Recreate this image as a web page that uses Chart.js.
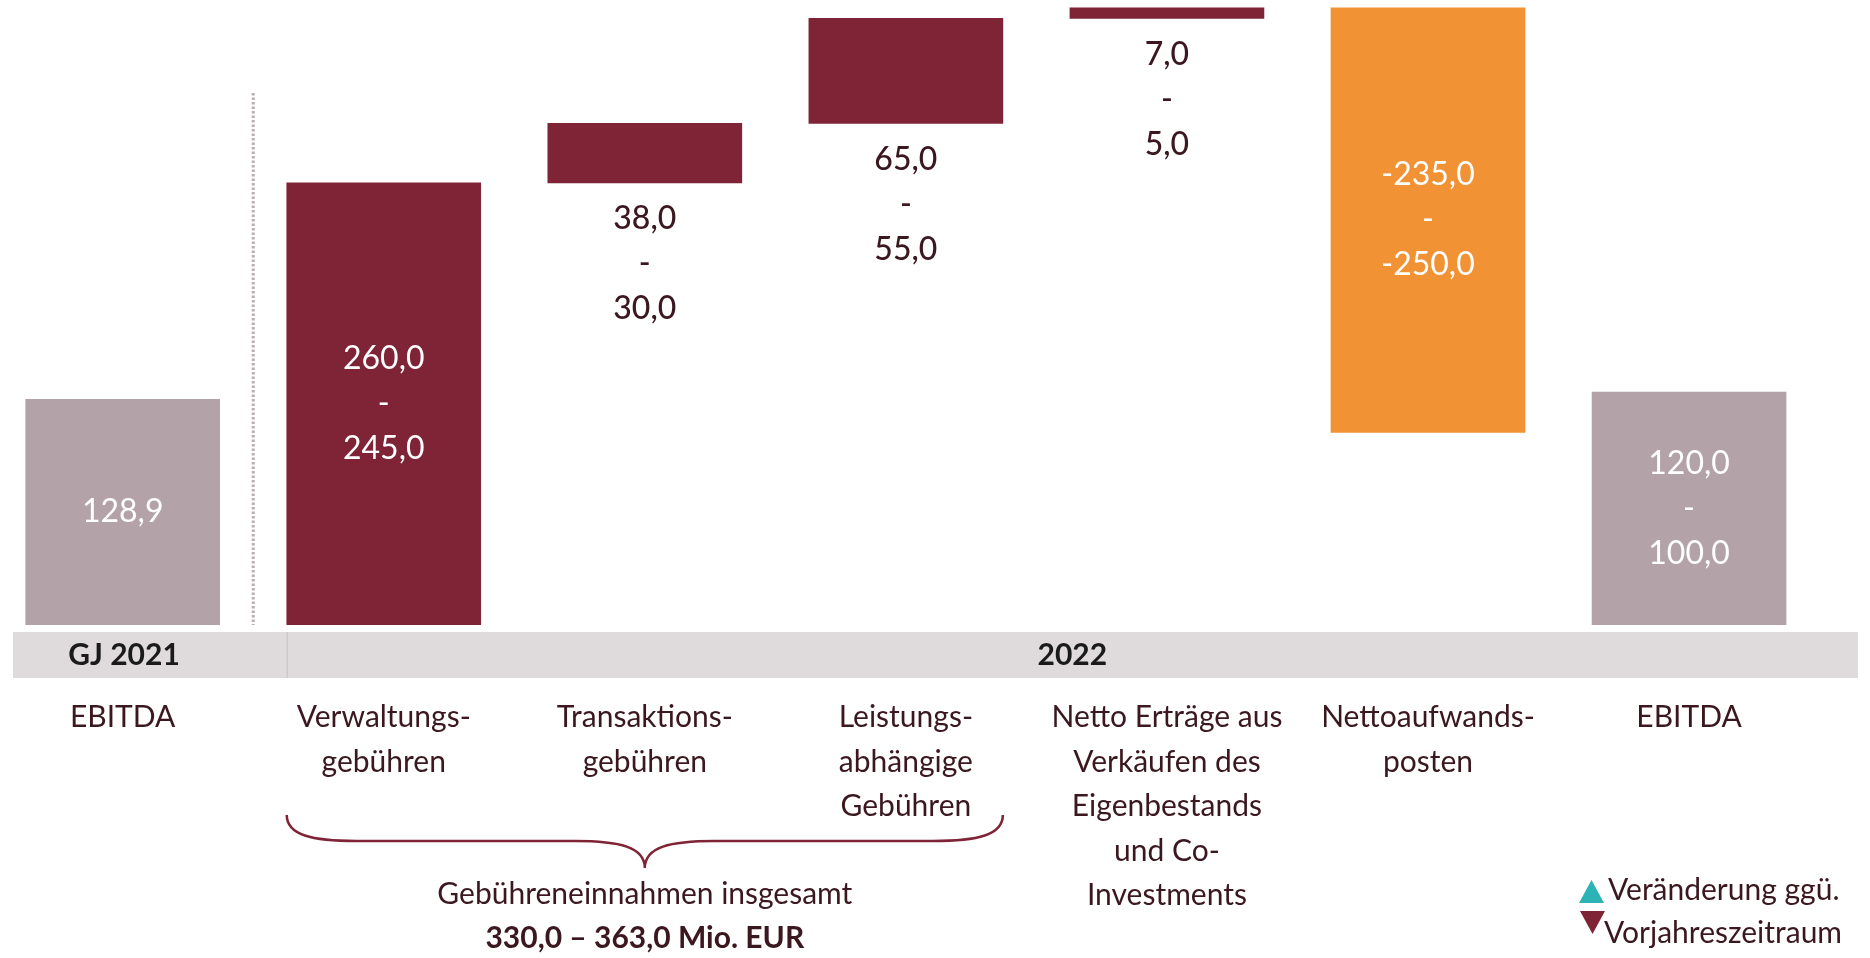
<!DOCTYPE html>
<html lang="de">
<head>
<meta charset="utf-8">
<title>EBITDA Überleitung 2022</title>
<script src="https://cdn.jsdelivr.net/npm/chart.js@4.4.1/dist/chart.umd.min.js"></script>
<style>
  html, body { margin: 0; padding: 0; background: #ffffff; }
  #wrap { position: relative; width: 1870px; height: 958px; overflow: hidden; }
</style>
</head>
<body>
<div id="wrap"><canvas id="bridgeChart"></canvas></div>
<script>
// Waterfall: EBITDA GJ 2021 -> Prognose 2022 (Mio. EUR)

// Kategorien (mehrzeilige Achsenbeschriftung)
const categories = [
    ['EBITDA'],
    ['Verwaltungs-', 'gebühren'],
    ['Transaktions-', 'gebühren'],
    ['Leistungs-', 'abhängige', 'Gebühren'],
    ['Netto Erträge aus', 'Verkäufen des', 'Eigenbestands', 'und Co-', 'Investments'],
    ['Nettoaufwands-', 'posten'],
    ['EBITDA'],
];

// Balken-Anfang und -Ende (Mio. EUR, Mittelwerte der Spannen)
const barStart = [0,     0,     252.5, 286.5, 346.5, 110,   0];
const barEnd   = [128.9, 252.5, 286.5, 346.5, 352.5, 352.5, 133];

// Beschriftung der Spannen
const rangeHigh = ['128,9', '260,0', '38,0', '65,0', '7,0', '-235,0', '120,0'];
const rangeLow  = [null,    '245,0', '30,0', '55,0', '5,0', '-250,0', '100,0'];

// Zeitraum-Band
const periodLabels = ['GJ 2021', '2022'];

const COLORS = {
    maroon: '#7f2436',
    grey:   '#b3a3a8',
    orange: '#f19234',
    band:   '#dfdadc',
    text:   '#3b1820',
    dark:   '#1a1a1a',
    teal:   '#2bb3b5',
};
const barColors = [COLORS.grey, COLORS.maroon, COLORS.maroon, COLORS.maroon, COLORS.maroon, COLORS.orange, COLORS.grey];

const FONT = "Lato, 'Open Sans', sans-serif";

// ── Plugin: Werte, Band, Trennlinie, Klammer, Legende ─────────────
const bridgeDecor = {
    id: 'bridgeDecor',
    afterDraw(chart) {
        const { ctx, chartArea } = chart;
        const xs = chart.scales.x;
        const meta = chart.getDatasetMeta(0);
        const halfBar = 97;

        ctx.save();

        // Werte in / unter den Balken
        ctx.textAlign = 'center';
        ctx.textBaseline = 'middle';
        meta.data.forEach((bar, i) => {
            const top = Math.min(bar.y, bar.base);
            const bottom = Math.max(bar.y, bar.base);
            const lines = rangeLow[i] ? [rangeHigh[i], '-', rangeLow[i]] : [rangeHigh[i]];
            const lh = 45;
            let y0;
            if (bottom - top > 150) {
                ctx.fillStyle = '#ffffff';
                ctx.font = `400 32px ${FONT}`;
                y0 = (top + bottom) / 2 - (lines.length - 1) * lh / 2;
            } else {
                ctx.fillStyle = COLORS.text;
                ctx.font = `500 32px ${FONT}`;
                y0 = bottom + 36;
            }
            lines.forEach((t, k) => ctx.fillText(t, bar.x, y0 + k * lh));
        });

        // gepunktete Trennlinie zwischen 2021 und 2022
        const sepX = xs.getPixelForValue(0.5);
        ctx.strokeStyle = '#b9aeb2';
        ctx.lineWidth = 3;
        ctx.setLineDash([2.5, 2]);
        ctx.beginPath();
        ctx.moveTo(sepX, 93);
        ctx.lineTo(sepX, chartArea.bottom);
        ctx.stroke();
        ctx.setLineDash([]);

        // Zeitraum-Band
        const bandTop = chartArea.bottom + 7;
        const bandH = 46;
        const divX = xs.getPixelForValue(1) - halfBar;
        ctx.fillStyle = COLORS.band;
        ctx.fillRect(13, bandTop, 1858 - 13, bandH);
        ctx.strokeStyle = '#cbc3c6';
        ctx.lineWidth = 1;
        ctx.beginPath();
        ctx.moveTo(divX + 0.5, bandTop);
        ctx.lineTo(divX + 0.5, bandTop + bandH);
        ctx.stroke();

        ctx.fillStyle = COLORS.dark;
        ctx.font = `700 30px ${FONT}`;
        ctx.fillText(periodLabels[0], 124, bandTop + bandH / 2);
        ctx.fillText(periodLabels[1], (divX + 1858) / 2, bandTop + bandH / 2);

        // geschweifte Klammer unter den Gebühren
        const bx0 = xs.getPixelForValue(1) - halfBar;
        const bx1 = xs.getPixelForValue(3) + halfBar;
        const tip = xs.getPixelForValue(2);
        const yA = 815, yB = 841, yC = 868;
        ctx.strokeStyle = COLORS.maroon;
        ctx.lineWidth = 2.5;
        ctx.beginPath();
        ctx.moveTo(bx0, yA);
        ctx.bezierCurveTo(bx0, yB - 6, bx0 + 25, yB, bx0 + 70, yB);
        ctx.lineTo(tip - 70, yB);
        ctx.bezierCurveTo(tip - 25, yB, tip, yB + 6, tip, yC);
        ctx.bezierCurveTo(tip, yB + 6, tip + 25, yB, tip + 70, yB);
        ctx.lineTo(bx1 - 70, yB);
        ctx.bezierCurveTo(bx1 - 25, yB, bx1, yB - 6, bx1, yA);
        ctx.stroke();

        ctx.fillStyle = COLORS.text;
        ctx.font = `400 30px ${FONT}`;
        ctx.fillText('Gebühreneinnahmen insgesamt', tip, 894);
        ctx.font = `700 30px ${FONT}`;
        ctx.fillText('330,0 – 363,0 Mio. EUR', tip, 938);

        // Legende
        ctx.fillStyle = COLORS.teal;
        ctx.beginPath();
        ctx.moveTo(1579, 903); ctx.lineTo(1604, 903); ctx.lineTo(1591.5, 880);
        ctx.closePath(); ctx.fill();
        ctx.fillStyle = COLORS.maroon;
        ctx.beginPath();
        ctx.moveTo(1580, 911); ctx.lineTo(1605, 911); ctx.lineTo(1592.5, 934);
        ctx.closePath(); ctx.fill();

        ctx.fillStyle = COLORS.text;
        ctx.textAlign = 'left';
        ctx.font = `400 30px ${FONT}`;
        ctx.fillText('Veränderung ggü.', 1608, 890);
        ctx.fillText('Vorjahreszeitraum', 1604, 933);

        ctx.restore();
    }
};

const ctx = document.getElementById('bridgeChart');

new Chart(ctx, {
    type: 'bar',
    data: {
        datasets: [{
            data: categories.map((c, i) => ({ x: i, y: [barStart[i], barEnd[i]] })),
            backgroundColor: barColors,
            borderWidth: 0,
            barThickness: 194,
        }]
    },
    options: {
        responsive: true,
        maintainAspectRatio: false,
        animation: false,
        layout: { padding: 0, autoPadding: false },
        plugins: {
            legend: { display: false },
            tooltip: { enabled: false },
        },
        scales: {
            x: {
                type: 'linear',
                offset: false,
                min: -0.4234,
                max: 6.6931,
                grid: { display: false, drawTicks: false, offset: false },
                border: { display: false },
                afterBuildTicks: s => { s.ticks = categories.map((c, i) => ({ value: i })); },
                afterFit: s => { s.height = 333; },
                ticks: {
                    autoSkip: false,
                    maxRotation: 0,
                    minRotation: 0,
                    padding: 70,
                    color: COLORS.text,
                    font: { family: FONT, size: 30, lineHeight: 1.487 },
                    callback: v => categories[v] || '',
                }
            },
            y: {
                display: false,
                min: 0,
                max: 357,
            }
        }
    },
    plugins: [bridgeDecor]
});
</script>
</body>
</html>
